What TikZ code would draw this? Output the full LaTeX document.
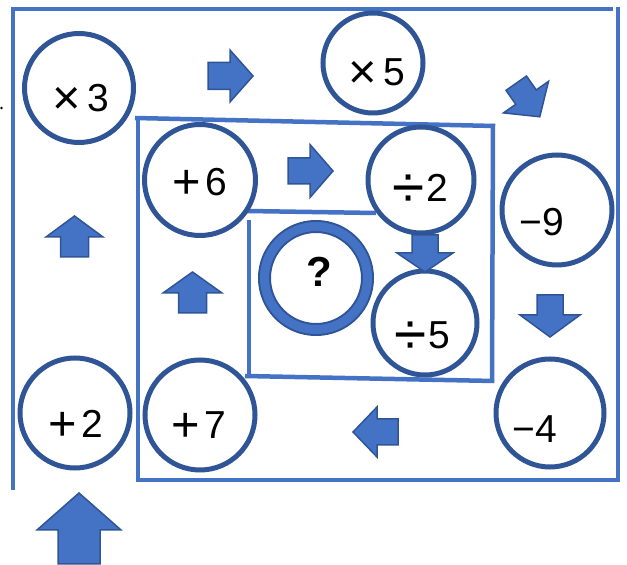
\documentclass[tikz,border=0pt]{standalone}
\usepackage{fontspec}
\usepackage{graphicx}
\setmainfont{Liberation Sans}
\usetikzlibrary{calc}
\definecolor{line-blue}{HTML}{4472C4}
\definecolor{ring-blue}{HTML}{2F5597}

% enlarged operator sign, kept on the digit's middle
\newcommand{\opsign}[1]{\raisebox{-3pt}{\scalebox{1.25}{#1}}}
\newcommand{\divsign}{\raisebox{-6pt}{\scalebox{1.5}{÷}}}

% block arrow: centre x, centre y, angle, length, head length, head width, shaft width
\newcommand{\blockarrow}[7]{%
  \filldraw[arrowfill, shift={(#1,#2)}, rotate=#3]
    (-#4/2,-#7/2) -- (#4/2-#5,-#7/2) -- (#4/2-#5,-#6/2) -- (#4/2,0)
    -- (#4/2-#5,#6/2) -- (#4/2-#5,#7/2) -- (-#4/2,#7/2) -- cycle;}

\begin{document}
\begin{tikzpicture}[
  x=1pt, y=1pt,
  op/.style={circle, draw=ring-blue, line width=5pt, fill=white, inner sep=0pt},
  query/.style={circle, draw=ring-blue, line width=2pt, double=line-blue,
    double distance=9pt, fill=white, inner sep=0pt},
  lbl/.style={font=\fontsize{39pt}{39pt}\selectfont, inner sep=0pt},
  spiral/.style={draw=line-blue, line width=4.5pt},
  arrowfill/.style={fill=line-blue, draw=ring-blue, line width=1.5pt, line join=miter},
]
  \useasboundingbox (0,0) rectangle (627,565);

  % spiral walls
  \draw[spiral] (13,75) -- (13,556);
  \draw[spiral] (11,556) -- (613,556);
  \draw[spiral] (618,558) -- (618,85);
  \draw[spiral] (620,85) -- (136,85);
  \draw[spiral] (138,85) -- (138,445);
  \draw[spiral] (135,447) -- (495,439);
  \draw[spiral] (493,441) -- (492,182);
  \draw[spiral] (494,184) -- (245,189);
  \draw[spiral] (249,189) -- (249,345);
  \draw[spiral] (247,354) -- (376,352);

  \fill (1.5,457) circle (1.3);

  % steps
  \node[op, minimum size=109, label={[lbl, xshift=2pt, yshift=-11pt]center:\opsign{×}\hspace{6pt}3}] (times3) at (79,477) {};
  \node[op, minimum size=100, label={[lbl, xshift=4pt, yshift=-11pt]center:\opsign{×}\hspace{6pt}5}] (times5) at (373,502) {};
  \node[op, minimum size=111, label={[lbl, yshift=-3pt]center:\opsign{+}\hspace{4pt}6}] (plus6) at (200,385) {};
  \node[op, minimum size=106, label={[lbl, xshift=-1pt, yshift=-11pt]center:\divsign\hspace{2pt}2}] (div2) at (421,385) {};
  \node[op, minimum size=110, label={[lbl, xshift=-15pt, yshift=-12pt]center:−9}] (minus9) at (557,355) {};
  \node[op, minimum size=104, label={[lbl, xshift=-3pt, yshift=-15pt]center:\divsign\hspace{2pt}5}] (div5) at (425,242) {};
  \node[op, minimum size=110, label={[lbl, xshift=1pt, yshift=-12pt]center:\opsign{+}\hspace{4pt}2}] (plus2) at (75,152) {};
  \node[op, minimum size=110, label={[lbl, xshift=-1pt, yshift=-12pt]center:\opsign{+}\hspace{4pt}7}] (plus7) at (200,150) {};
  \node[op, minimum size=108, label={[lbl, xshift=-15pt, yshift=-16pt]center:−4}] (minus4) at (550,152) {};
  \node[query, minimum size=103, label={[lbl, font=\fontsize{42pt}{42pt}\selectfont\bfseries, xshift=3pt, yshift=6pt]center:?}] (ask) at (316,287) {};

  % arrows
  \blockarrow{230.5}{489}{0}{45}{23}{52}{27}
  \blockarrow{310.5}{394}{0}{45}{23}{53}{26}
  \blockarrow{528}{465}{-55}{41}{24}{55}{25}
  \blockarrow{425}{311.5}{-90}{37}{19}{56}{26}
  \blockarrow{550}{249}{-90}{42}{22}{60}{26}
  \blockarrow{375.5}{133}{180}{45}{24}{50}{26}
  \blockarrow{192.5}{272.5}{90}{41}{21}{59}{28}
  \blockarrow{74.5}{328.5}{90}{41}{21}{57}{28}
  \blockarrow{79}{36.5}{90}{71}{37}{84}{42}
\end{tikzpicture}
\end{document}
